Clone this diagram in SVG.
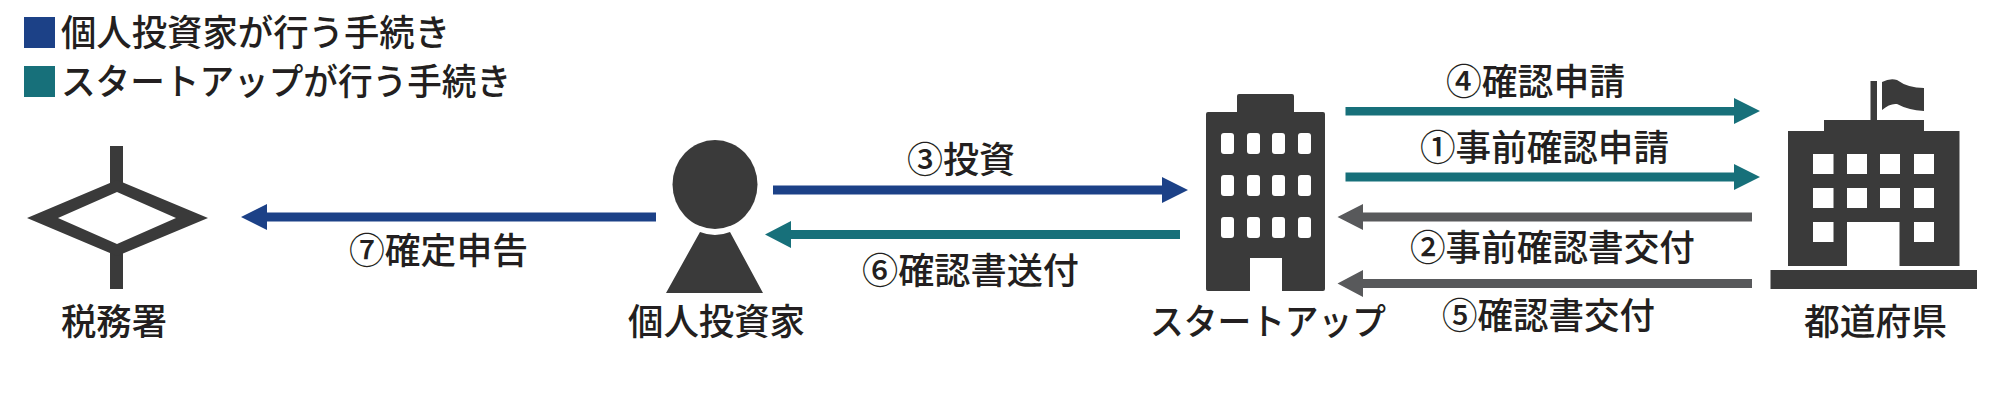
<svg xmlns="http://www.w3.org/2000/svg" width="2000" height="411" viewBox="0 0 2000 411">
<style>
text{font-family:"Noto Sans CJK JP","Noto Sans CJK SC",sans-serif;font-size:36.5px;fill:#231f20;font-weight:500}
.d{fill:#3a3a3a}
.w{fill:#fff}
.b{fill:#1c4187}
.t{fill:#17707a}
.g{fill:#58595b}
</style>
<rect width="2000" height="411" fill="#fff"/>
<g id="legend">
<rect class="b" x="24" y="17" width="31" height="31"/>
<text x="61" y="46" textLength="389" lengthAdjust="spacingAndGlyphs">個人投資家が行う手続き</text>
<rect class="t" x="24" y="66" width="31" height="31"/>
<text x="61" y="95" textLength="450" lengthAdjust="spacingAndGlyphs">スタートアップが行う手続き</text>
</g>
<g id="tax-office">
<rect class="d" x="110" y="146" width="13" height="40"/>
<rect class="d" x="110" y="250" width="13" height="39"/>
<path class="d" fill-rule="evenodd" d="M27 218 117 180 208 218 117 256ZM58 218 117 244 176 218 117 192Z"/>
<text x="61" y="335" textLength="106" lengthAdjust="spacingAndGlyphs">税務署</text>
</g>
<g id="investor">
<ellipse class="d" cx="715" cy="184.5" rx="42.5" ry="44.5"/>
<path class="d" d="M700 232Q715 238 730 232L763 293H666Z"/>
<text x="628" y="335" textLength="177" lengthAdjust="spacingAndGlyphs">個人投資家</text>
</g>
<g id="startup">
<path class="d" d="M1239 94H1292Q1294 94 1294 96V112H1323Q1325 112 1325 114V289Q1325 291 1323 291H1282V258H1250V291H1208Q1206 291 1206 289V114Q1206 112 1208 112H1237V96Q1237 94 1239 94Z"/>
<g class="w">
<rect x="1221" y="133" width="13" height="21" rx="3"/><rect x="1247" y="133" width="13" height="21" rx="3"/><rect x="1272" y="133" width="13" height="21" rx="3"/><rect x="1298" y="133" width="13" height="21" rx="3"/>
<rect x="1221" y="175" width="13" height="21" rx="3"/><rect x="1247" y="175" width="13" height="21" rx="3"/><rect x="1272" y="175" width="13" height="21" rx="3"/><rect x="1298" y="175" width="13" height="21" rx="3"/>
<rect x="1221" y="217" width="13" height="21" rx="3"/><rect x="1247" y="217" width="13" height="21" rx="3"/><rect x="1272" y="217" width="13" height="21" rx="3"/><rect x="1298" y="217" width="13" height="21" rx="3"/>
</g>
<text x="1150" y="335" textLength="236" lengthAdjust="spacingAndGlyphs">スタートアップ</text>
</g>
<g id="prefecture">
<path class="d" d="M1870.5 81H1877V120H1924V131H1959.5V266H1899.5V222H1847V266H1788V131H1824V120H1870.5Z"/>
<path class="d" d="M1882 82Q1890 78 1897 80Q1908 88 1924 88V111Q1908 110 1897 104Q1890 103 1882 110Z"/>
<rect class="d" x="1770.5" y="270" width="206.5" height="19"/>
<g class="w">
<rect x="1813" y="154" width="20.5" height="20"/><rect x="1847" y="154" width="20" height="20"/><rect x="1880" y="154" width="20" height="20"/><rect x="1914" y="154" width="20" height="20"/>
<rect x="1813" y="188" width="20.5" height="20"/><rect x="1847" y="188" width="20" height="20"/><rect x="1880" y="188" width="20" height="20"/><rect x="1914" y="188" width="20" height="20"/>
<rect x="1813" y="222" width="20.5" height="20"/><rect x="1914" y="222" width="20" height="20"/>
</g>
<text x="1804" y="335" textLength="143" lengthAdjust="spacingAndGlyphs">都道府県</text>
</g>
<g id="connectors">
<path class="b" d="M656 212.5H267V204L241 217 267 230V221.5H656Z"/>
<path class="b" d="M773 185.5H1162V177L1188 190 1162 203V194.5H773Z"/>
<path class="t" d="M1180 230H791V221L765 234.5 791 248V239H1180Z"/>
<path class="t" d="M1345.5 107H1734V98L1760 111 1734 124V115.5H1345.5Z"/>
<path class="t" d="M1345.5 172.5H1734V164L1760 177 1734 190V181.5H1345.5Z"/>
<path class="g" d="M1752 212.5H1363V204L1337.5 217 1363 230V221.5H1752Z"/>
<path class="g" d="M1752 279H1363V270L1337.5 283.5 1363 297V288H1752Z"/>
</g>
<g id="labels">
<text x="349" y="264" textLength="179" lengthAdjust="spacingAndGlyphs">⑦確定申告</text>
<text x="907" y="173" textLength="108" lengthAdjust="spacingAndGlyphs">③投資</text>
<text x="862" y="284" textLength="217" lengthAdjust="spacingAndGlyphs">⑥確認書送付</text>
<text x="1446" y="95" textLength="179" lengthAdjust="spacingAndGlyphs">④確認申請</text>
<text x="1420" y="161" textLength="249" lengthAdjust="spacingAndGlyphs">①事前確認申請</text>
<text x="1410" y="261" textLength="285" lengthAdjust="spacingAndGlyphs">②事前確認書交付</text>
<text x="1442" y="329" textLength="213" lengthAdjust="spacingAndGlyphs">⑤確認書交付</text>
</g>
</svg>
